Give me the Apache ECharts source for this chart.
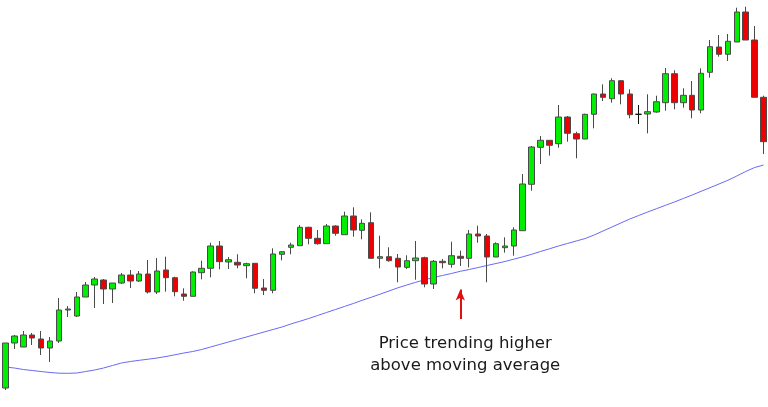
<!DOCTYPE html>
<html>
<head>
<meta charset="utf-8">
<script src="https://cdn.jsdelivr.net/npm/echarts@6/dist/echarts.min.js"></script>
<style>
html,body{margin:0;padding:0;background:#fff;}
#chart{width:768px;height:407px;}
</style>
</head>
<body>
<div id="chart"></div>
<script>
// Candles: [open, close, low, high] (price units)
const candles = [
  [19,64,17,64],[64,71,58,72],[60,72,60,76],[72,69,62,74],[68,59,52,76],
  [59,66,45,70],[66,97,64,109],[97,98,90,101],[91,110,90,115],[110,122,110,125],
  [122,128,99,130],[127,118,103,128],[118,124,104,124],[124,132,123,134],[132,126,119,137],
  [126,133,125,136],[133,115,113.5,147],[115,136,113,149],[137,129.3,115.3,150.3],[129.3,115.3,110.7,130.3],
  [113,110.7,106.3,118.7],[110.7,135,110.7,135.7],[134.3,138.7,127.7,146.3],[138.7,161,129.7,164.3],[161,145.3,137.7,166],
  [145,147.3,138,150],[144.7,142,138.7,152.7],[141.3,143.3,128.7,144.3],[143.7,118.7,113.7,144],[119,116.7,112,128],
  [116.7,153,113.7,158.7],[152.7,155.3,146.7,156],[159.7,162,152.7,164.3],[161.3,179.7,161.3,182],[179.7,168.7,162.7,180.3],
  [168.7,163.3,162.3,177],[163.3,181,163.3,183],[181,173.7,171.3,181.7],[172.3,191,172.3,195.3],[191,177,170.3,199.7],
  [176.7,183.7,167.7,187.7],[184.3,148.7,148.7,194.7],[148.7,150.3,138.7,171.3],[150.3,146.3,145.3,159.7],[148.7,140,124.7,153],
  [139.7,146.3,138,151.7],[146.3,149,127.3,166],[149.3,123,119.7,150.3],[123,145.7,118,147],[145.7,144.3,138.7,148],
  [142.7,151.3,139.3,165.3],[150.7,148.7,141,156.3],[148.7,173,139.7,177],[173,171,164.3,181.3],[171,150,124.7,173],
  [150,163.3,150,164.7],[159.3,161,154.3,169.7],[161,177,151.3,179.7],[176.3,223,176.3,233],[222.7,260,216.3,261],
  [259.7,266.7,243,271],[266.7,261.7,251.3,266.7],[263.3,290,259.3,302],[290,273.7,265.3,291],[273.3,268,248.7,275.3],
  [268,292.7,268,293.3],[292.7,313,278.7,313.3],[313,309.7,306,322.7],[308.3,326.3,304.3,328.7],[326.3,313,302.7,327],
  [313,292.3,288.7,317.7],[292.7,292.7,283,302],[293,295.3,273.7,312.7],[295,305.3,294.3,311.3],[304.3,333.3,296.3,339],
  [333.3,304.3,297.7,336.7],[304.3,311.7,299.3,318.7],[311.7,297,288.7,326],[297,333.7,293.7,338.7],[334.7,360.3,329.3,367],
  [360,352.7,350.3,372],[352.7,365.7,346,373],[365,395,365,399.3],[395,367,367,400.3],[367,309.7,309.7,381],
  [309.7,265.3,253,311.3]
];

// Moving average values at each candle
const movingAverage = [
  40,39,37.5,36.5,35.5,34.5,33.8,33.7,34,35.5,
  37,39,41.5,44,45.5,46.7,47.8,49,50.5,52.2,
  54,55.5,57.5,60,62.5,65,67.5,70,72.5,75,
  77.5,80,83,85.7,88.5,91.5,94.5,97.5,100.5,103.5,
  106.7,109.7,112.8,116,119.2,122,124.7,127.2,129.5,131.5,
  133.5,135.7,137.5,139.5,141.5,143.5,145.5,147.8,150.2,152.7,
  155.5,158.2,161,163.5,166,168.5,172,176,180,184,
  188,191.5,195,198.3,201.7,205,208.5,212,215.7,219.3,
  223,226.7,231,235.5,239.5,242
];

// Session labels (not drawn; the chart has no visible axes)
const categories = candles.map((_, i) => 'Bar ' + (i + 1));

// Annotation
const noteText = ['Price trending higher', 'above moving average'];
const arrowIndex = 51;
const arrowFrom = 88, arrowTo = 117.5;
const noteIndex = 52, noteValue = 52;

const chart = echarts.init(document.getElementById('chart'), null, {renderer: 'canvas'});
chart.setOption({
  animation: false,
  backgroundColor: '#ffffff',
  grid: {left: 1, right: 0, top: 0, bottom: 0},
  xAxis: {type: 'category', data: categories, show: false, boundaryGap: true},
  yAxis: {type: 'value', min: 0, max: 407, show: false},
  series: [
    {
      name: 'MA',
      type: 'line',
      data: movingAverage,
      symbol: 'none',
      smooth: false,
      lineStyle: {color: '#6a6af5', width: 1},
      z: 1
    },
    {
      name: 'Price',
      type: 'candlestick',
      data: candles,
      barWidth: 6,
      itemStyle: {
        color: '#00ee00',
        color0: '#ee0000',
        borderColor: '#4a4a4a',
        borderColor0: '#4a4a4a',
        borderColorDoji: '#111111',
        borderWidth: 1
      },
      z: 2,
      markLine: {
        silent: true,
        symbol: ['none', 'arrow'],
        symbolSize: [7, 11],
        label: {show: false},
        lineStyle: {color: '#e01010', width: 2, type: 'solid'},
        data: [[{coord: [arrowIndex, arrowFrom]}, {coord: [arrowIndex, arrowTo]}]]
      },
      markPoint: {
        silent: true,
        symbol: 'circle',
        symbolSize: 1,
        itemStyle: {color: 'rgba(0,0,0,0)'},
        label: {
          show: true,
          position: 'inside',
          offset: [-4, 0],
          formatter: noteText.join('\n'),
          fontFamily: 'DejaVu Sans',
          fontSize: 16.5,
          lineHeight: 22,
          color: '#1a1a1a',
          align: 'center'
        },
        data: [{coord: [noteIndex, noteValue]}]
      }
    }
  ]
});
</script>
</body>
</html>
